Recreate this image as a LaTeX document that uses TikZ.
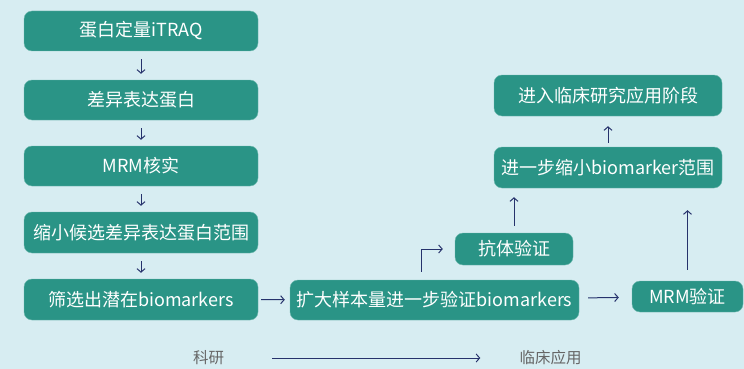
\documentclass[tikz,border=0pt]{standalone}
\usepackage{fontspec}
\setmainfont{Noto Sans CJK SC}
\usepackage{tikz}
\usetikzlibrary{arrows.meta,positioning,calc}

\definecolor{boxfill}{RGB}{42,148,134}
\definecolor{boxline}{RGB}{108,184,174}
\definecolor{bgblue}{RGB}{215,237,242}
\definecolor{arrowblue}{RGB}{38,50,108}

\begin{document}
\begin{tikzpicture}[x=1pt,y=-1pt,
		box/.style={draw=boxline, fill=boxfill, rounded corners=8pt, text=white,
			font=\fontsize{18}{21}\selectfont, inner sep=0pt, anchor=center},
		stage/.style={text=black!60, font=\fontsize{15.5}{18}\selectfont, inner sep=0pt},
		conn/.style={draw=arrowblue, line width=1pt, -{Straight Barb[length=3.5pt,width=8pt]}}]

		\fill[bgblue] (0,0) rectangle (744,369);

		% left column
		\node[box, minimum width=234pt, minimum height=40pt] (quant)  at (141,31)    {蛋白定量iTRAQ};
		\node[box, minimum width=234pt, minimum height=40pt] (diff)   at (141,100)   {差异表达蛋白};
		\node[box, minimum width=234pt, minimum height=40pt] (mrmchk) at (141,166)   {MRM核实};
		\node[box, minimum width=234pt, minimum height=41pt] (narrow) at (141,232.5) {缩小候选差异表达蛋白范围};
		\node[box, minimum width=234pt, minimum height=41pt] (screen) at (141,299.5) {筛选出潜在biomarkers};

		% validation and clinic
		\node[box, minimum width=289pt, minimum height=40pt] (expand)   at (434.5,300)   {扩大样本量进一步验证biomarkers};
		\node[box, minimum width=118pt, minimum height=32pt] (antibody) at (514,249)     {抗体验证};
		\node[box, minimum width=111pt, minimum height=31pt] (mrmval)   at (687.5,296.5) {MRM验证};
		\node[box, minimum width=228pt, minimum height=41pt] (narrower) at (608,167.5)   {进一步缩小biomarker范围};
		\node[box, minimum width=228pt, minimum height=41pt] (clinic)   at (608,95.5)    {进入临床研究应用阶段};

		\node[stage] (research) at (208.5,358) {科研};
		\node[stage] (clinical) at (550.5,358) {临床应用};

		\draw[conn, shorten <=8pt, shorten >=6pt] (quant)  -- (diff);
		\draw[conn, shorten <=8pt, shorten >=6pt] (diff)   -- (mrmchk);
		\draw[conn, shorten <=8pt, shorten >=6pt] (mrmchk) -- (narrow);
		\draw[conn, shorten <=8pt, shorten >=6pt] (narrow) -- (screen);
		\draw[conn, shorten <=3pt, shorten >=5pt] (screen) -- (expand);
		\draw[conn, shorten <=9pt, shorten >=13pt] (expand) -- (mrmval);
		\draw[conn] ($(expand.north)+(-13.5,-8)$) |- ($(antibody.west)+(-12,0)$);
		\draw[conn, shorten <=7pt, shorten >=9pt] (antibody.north) -- (antibody.north |- narrower.south);
		\draw[conn, shorten <=11pt, shorten >=22pt] (mrmval.north) -- (mrmval.north |- narrower.south);
		\draw[conn, shorten <=4pt, shorten >=10pt] (narrower) -- (clinic);
		\draw[conn, shorten <=48pt, shorten >=39pt] (research) -- (clinical);
\end{tikzpicture}
\end{document}
